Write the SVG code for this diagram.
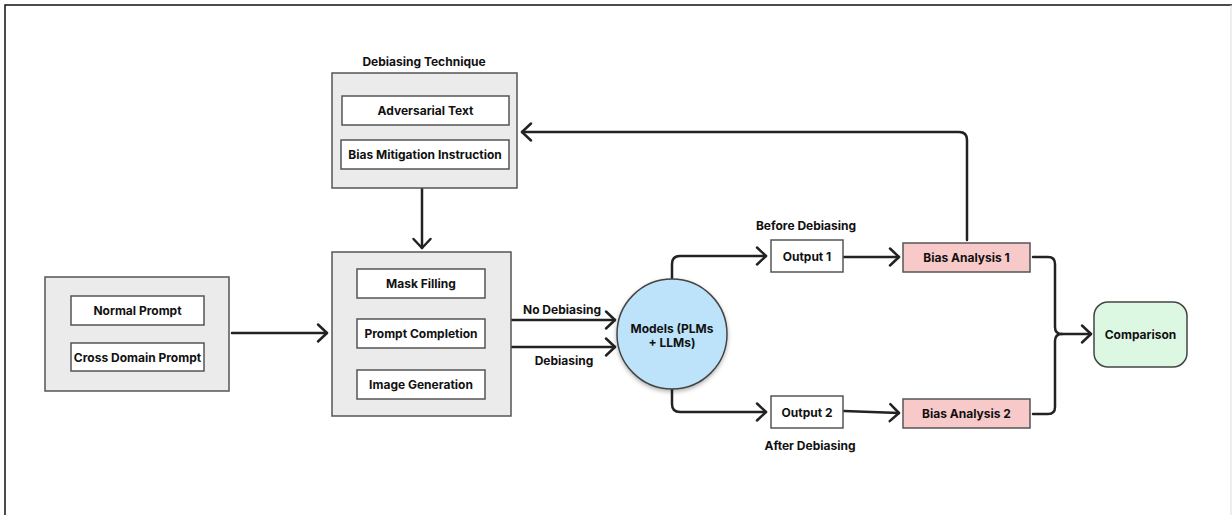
<svg xmlns="http://www.w3.org/2000/svg" width="1232" height="515" viewBox="0 0 1232 515">
<style>
text{font-family:Inter,Roboto,"Liberation Sans",sans-serif;font-weight:700;font-size:12px;fill:#111;text-anchor:middle;dominant-baseline:central}
.cont{fill:#ebebeb;stroke:#555;stroke-width:1.5}
.box{fill:#fff;stroke:#555;stroke-width:1.5}
.bias{fill:#f8c9c9;stroke:#555;stroke-width:1.5}
.conn{fill:none;stroke:#222;stroke-width:2.5;stroke-linecap:round;stroke-linejoin:round}
</style>
<defs>
<marker id="arr" viewBox="0 0 20 24" refX="16" refY="12" markerWidth="20" markerHeight="24" markerUnits="userSpaceOnUse" orient="auto">
<path d="M7,3.5 L16,12 L7,20.5" fill="none" stroke="#222" stroke-width="2.5" stroke-linecap="round" stroke-linejoin="round"/>
</marker>
<filter id="sh" x="-20%" y="-20%" width="140%" height="150%">
<feDropShadow dx="0" dy="2" stdDeviation="2" flood-color="#000" flood-opacity="0.3"/>
</filter>
</defs>
<rect width="1232" height="515" fill="#fff"/>
<path d="M5,515 V5 H1232" fill="none" stroke="#111" stroke-width="1.5"/>
<line x1="1231" y1="5" x2="1231" y2="515" stroke="#ddd" stroke-width="1"/>

<g id="connectors">
<path class="conn" d="M232,333 H327" marker-end="url(#arr)"/>
<path class="conn" d="M422,188 V248" marker-end="url(#arr)"/>
<path class="conn" d="M511,320 H615" marker-end="url(#arr)"/>
<path class="conn" d="M511,347 H615" marker-end="url(#arr)"/>
<path class="conn" d="M672,278 V264 Q672,256 680,256 H766" marker-end="url(#arr)"/>
<path class="conn" d="M672,389 V404 Q672,412 680,412 H766" marker-end="url(#arr)"/>
<path class="conn" d="M844,257 H899" marker-end="url(#arr)"/>
<path class="conn" d="M844,411 L899,413" marker-end="url(#arr)"/>
<path class="conn" d="M967,240 V140 Q967,132 959,132 H522" marker-end="url(#arr)"/>
<path class="conn" d="M1033,257 H1048 Q1055,257 1055,264 V327 Q1055,334 1062,334 H1091" marker-end="url(#arr)"/>
<path class="conn" d="M1033,414 H1048 Q1055,414 1055,407 V341 Q1055,334 1062,334"/>
</g>

<g id="debiasing-technique">
<text x="424" y="61">Debiasing Technique</text>
<rect class="cont" x="332" y="73" width="185" height="115"/>
<g id="adversarial-text"><rect class="box" x="342" y="96" width="167" height="29"/><text x="425.5" y="110.5">Adversarial Text</text></g>
<g id="bias-mitigation"><rect class="box" x="341" y="140" width="168" height="29"/><text x="425" y="154.5">Bias Mitigation Instruction</text></g>
</g>

<g id="prompts">
<rect class="cont" x="45" y="277" width="184" height="114"/>
<g id="normal-prompt"><rect class="box" x="71" y="296" width="133" height="29"/><text x="137.5" y="310.5">Normal Prompt</text></g>
<g id="cross-domain-prompt"><rect class="box" x="71" y="343" width="133" height="28"/><text x="137.5" y="357">Cross Domain Prompt</text></g>
</g>

<g id="tasks">
<rect class="cont" x="332" y="252" width="179" height="164"/>
<g id="mask-filling"><rect class="box" x="357" y="269" width="128" height="29"/><text x="421" y="283.5">Mask Filling</text></g>
<g id="prompt-completion"><rect class="box" x="357" y="319" width="128" height="29"/><text x="421" y="333.5">Prompt Completion</text></g>
<g id="image-generation"><rect class="box" x="357" y="370" width="128" height="29"/><text x="421" y="384.5">Image Generation</text></g>
</g>

<g id="label-no-debiasing"><text x="562" y="309">No Debiasing</text></g>
<g id="label-debiasing"><text x="564" y="360">Debiasing</text></g>

<g id="models">
<circle cx="672" cy="334" r="55" fill="#bde3fb" stroke="#444" stroke-width="1.5" filter="url(#sh)"/>
<text x="672" y="328">Models (PLMs</text>
<text x="672" y="342">+ LLMs)</text>
</g>

<g id="output-1"><text x="806" y="225">Before Debiasing</text><rect class="box" x="771" y="240" width="72" height="32"/><text x="807" y="256">Output 1</text></g>
<g id="output-2"><rect class="box" x="771" y="396" width="72" height="32"/><text x="807" y="412">Output 2</text><text x="810" y="445">After Debiasing</text></g>

<g id="bias-analysis-1"><rect class="bias" x="903" y="243" width="127" height="29"/><text x="966.5" y="257.5">Bias Analysis 1</text></g>
<g id="bias-analysis-2"><rect class="bias" x="903" y="399" width="127" height="29"/><text x="966.5" y="413.5">Bias Analysis 2</text></g>

<g id="comparison"><rect x="1094" y="302" width="93" height="65" rx="14" fill="#dcf8e2" stroke="#444" stroke-width="1.5"/><text x="1140.5" y="334.5">Comparison</text></g>
</svg>
